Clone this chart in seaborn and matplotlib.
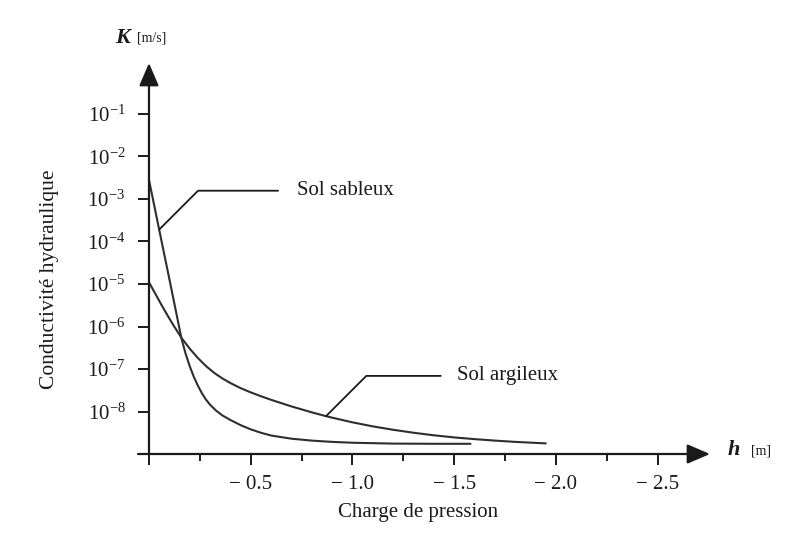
import numpy as np
import pandas as pd
import matplotlib
matplotlib.use('agg')
import matplotlib.pyplot as plt
from matplotlib.ticker import FixedLocator, FuncFormatter, LogFormatterSciNotation, NullLocator
import seaborn as sns

# pressure head h [m] and log10 of K [m/s]
sand_h = [0, -0.05, -0.10, -0.16, -0.18, -0.20, -0.22, -0.24, -0.26, -0.28, -0.30,
          -0.33, -0.36, -0.40, -0.45, -0.50, -0.55, -0.60, -0.70, -0.80, -0.90,
          -1.0, -1.2, -1.4, -1.58]
sand_log10K = [-2.55, -3.72, -4.88, -6.29, -6.64, -6.93, -7.18, -7.39, -7.57, -7.72, -7.84,
               -7.98, -8.09, -8.20, -8.32, -8.42, -8.50, -8.565, -8.64, -8.685, -8.715,
               -8.735, -8.755, -8.76, -8.76]

clay_h = [0, -0.03, -0.06, -0.09, -0.12, -0.16, -0.20, -0.24, -0.28, -0.32, -0.36,
          -0.40, -0.45, -0.50, -0.55, -0.60, -0.70, -0.80, -0.87, -0.90, -1.0, -1.1,
          -1.2, -1.3, -1.4, -1.5, -1.6, -1.7, -1.8, -1.95]
clay_log10K = [-4.96, -5.22, -5.48, -5.73, -5.97, -6.27, -6.52, -6.74, -6.93, -7.09, -7.22,
               -7.33, -7.45, -7.55, -7.64, -7.725, -7.88, -8.02, -8.11, -8.145, -8.255, -8.35,
               -8.43, -8.50, -8.56, -8.61, -8.65, -8.685, -8.715, -8.75]

x_major = [0, -0.5, -1.0, -1.5, -2.0, -2.5]
x_minor = [-0.25, -0.75, -1.25, -1.75, -2.25]
y_ticks = [1e-1, 1e-2, 1e-3, 1e-4, 1e-5, 1e-6, 1e-7, 1e-8]

labels = {'sable': 'Sol sableux', 'argile': 'Sol argileux'}

df = pd.concat([
    pd.DataFrame({'h': sand_h, 'K': 10.0 ** np.array(sand_log10K), 'sol': 'sable'}),
    pd.DataFrame({'h': clay_h, 'K': 10.0 ** np.array(clay_log10K), 'sol': 'argile'}),
])

sns.set_theme(style='white')
plt.rcParams['font.family'] = ['Liberation Serif', 'DejaVu Serif']
plt.rcParams['mathtext.fontset'] = 'custom'
plt.rcParams['mathtext.rm'] = 'Liberation Serif'
plt.rcParams['mathtext.it'] = 'Liberation Serif:italic'

ink = '#1a1a1a'
curve = '#2e2e2e'

fig = plt.figure(figsize=(7.96, 5.5), dpi=100)
ax = fig.add_axes([138 / 796, 96 / 550, 572 / 796, 391 / 550])

sns.lineplot(data=df, x='h', y='K', hue='sol', palette={'sable': curve, 'argile': curve},
             estimator=None, sort=False, legend=False, linewidth=1.5, ax=ax)

ax.set_yscale('log')
ax.set_xlim(0.054, -2.757)
ax.set_ylim(1e-9, 10 ** 0.2)

for s in ax.spines.values():
    s.set_visible(False)

# axes drawn as arrows
arrow = dict(arrowstyle='-|>,head_length=0.7,head_width=0.3', color=ink, lw=1.6,
             mutation_scale=20, shrinkA=0, shrinkB=0)
ax.annotate('', xy=(1, 0), xytext=(0, 0), xycoords='axes fraction', arrowprops=arrow)
ax.annotate('', xy=(0, 1), xytext=(0, 0), xycoords=('data', 'axes fraction'), arrowprops=arrow)

ax.xaxis.set_major_locator(FixedLocator(x_major))
ax.xaxis.set_minor_locator(FixedLocator(x_minor))
ax.xaxis.set_major_formatter(FuncFormatter(lambda v, p: '' if v == 0 else f'\u2212 {abs(v):.1f}'))
ax.tick_params(axis='x', which='major', direction='out', length=8, width=1.4, color=ink,
               pad=7, labelsize=15, labelcolor=ink, bottom=True)
ax.tick_params(axis='x', which='minor', direction='out', length=5, width=1.4, color=ink, bottom=True)

ax.yaxis.set_major_locator(FixedLocator(y_ticks))
ax.yaxis.set_minor_locator(NullLocator())
ax.yaxis.set_major_formatter(LogFormatterSciNotation())
ax.tick_params(axis='y', which='major', direction='in', length=8, width=1.4, color=ink,
               pad=9, labelsize=15, labelcolor=ink, left=True)

ax.set_xlabel('Charge de pression', fontsize=15, color=ink)
ax.xaxis.set_label_coords(0.4895, -0.125)
ax.set_ylabel('Conductivité hydraulique', fontsize=15.5, color=ink)
ax.yaxis.set_label_coords(-0.138, 0.4476)

# leader-line labels anchored on curve points
lead = dict(arrowstyle='-', color=ink, lw=1.3, shrinkA=11, shrinkB=0,
            connectionstyle='angle,angleA=0,angleB=45,rad=0')
ax.annotate(labels['sable'], xy=(sand_h[1], 10.0 ** sand_log10K[1]), xytext=(99, 28),
            textcoords='offset points', ha='left', va='center', fontsize=15, color=ink,
            arrowprops=lead)
ax.annotate(labels['argile'], xy=(clay_h[18], 10.0 ** clay_log10K[18]), xytext=(94, 29),
            textcoords='offset points', ha='left', va='center', fontsize=15, color=ink,
            arrowprops=dict(lead, shrinkA=9))

# axis names with units
fig.text(115 / 796, 1 - 38 / 550, 'K', fontsize=16, style='italic', weight='bold',
         color=ink, ha='left', va='center')
fig.text(137 / 796, 1 - 38 / 550, '[m/s]', fontsize=10, color=ink, ha='left', va='center')
fig.text(728 / 796, 1 - 450 / 550, 'h', fontsize=16, style='italic', weight='bold',
         color=ink, ha='left', va='center')
fig.text(751 / 796, 1 - 451 / 550, '[m]', fontsize=10, color=ink, ha='left', va='center')

fig.savefig('out.png', dpi=100)
